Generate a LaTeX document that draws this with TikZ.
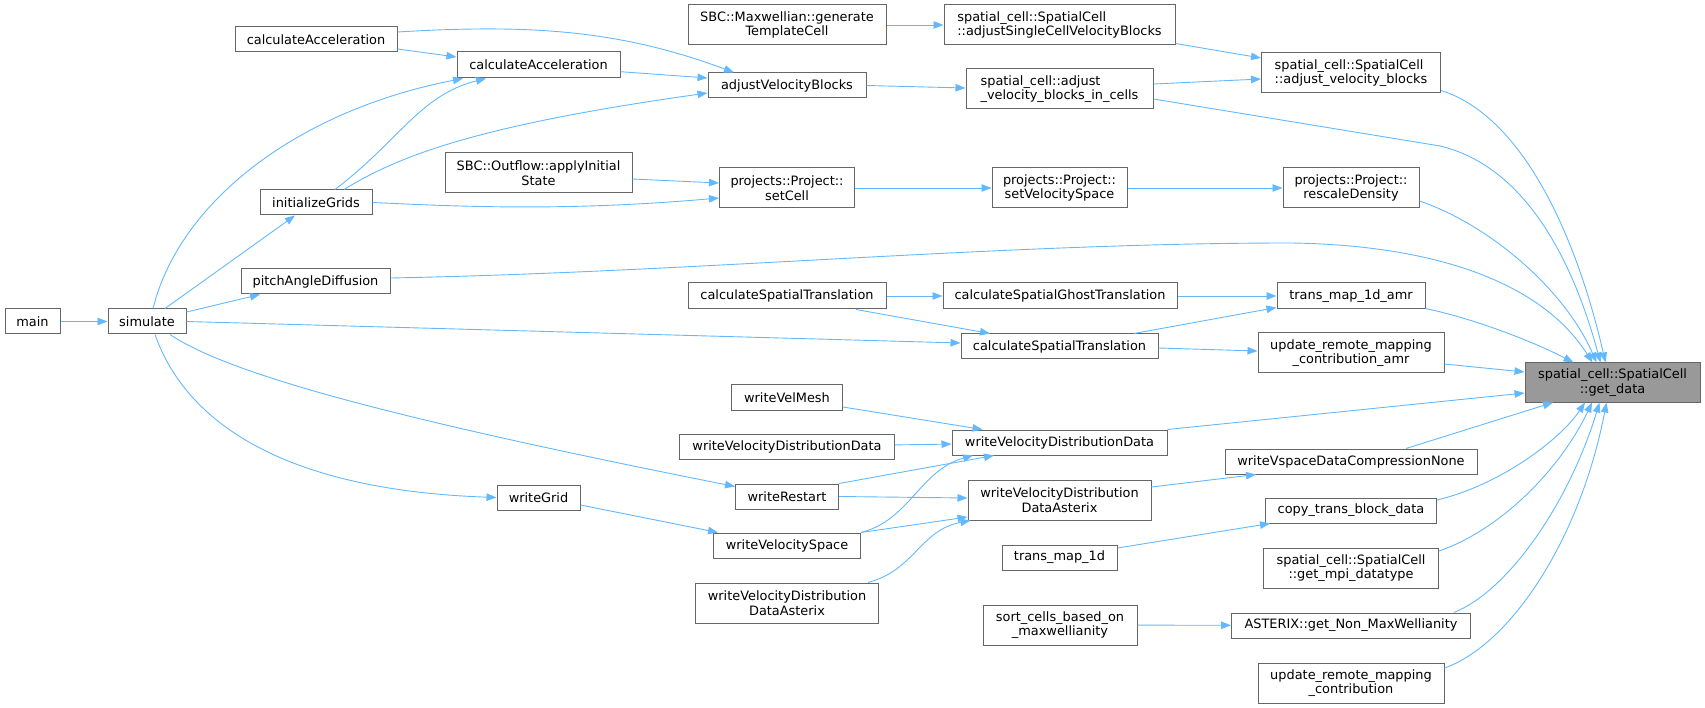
\documentclass[tikz,border=0pt]{standalone}
\usepackage{fontspec}
\setmainfont{DejaVu Sans}
\usetikzlibrary{arrows.meta}
\definecolor{edgeblue}{HTML}{63B8FF}
\definecolor{boxgray}{HTML}{666666}
\definecolor{hlgray}{HTML}{999999}
\tikzset{
  box/.style={draw=boxgray, line width=1pt, fill=white, inner sep=0pt, align=center,
    font=\fontsize{12.9}{14.4}\selectfont},
  sz/.style 2 args={minimum width=#1pt, minimum height=#2pt},
  e/.style={draw=edgeblue, line width=0.9pt, -{Triangle[length=10pt,width=7.5pt]}},
}
\begin{document}
\begin{tikzpicture}[x=1pt,y=-1pt]
\useasboundingbox (0,0) rectangle (1705,708);
% nodes
\node[box, sz={55}{25}] (main) at (32.5,321.5) {main};
\node[box, sz={78}{25}] (simulate) at (147,321.5) {simulate};
\node[box, sz={162}{25}] (accA) at (316,39.5) {calculateAcceleration};
\node[box, sz={163}{26}] (accB) at (538.5,65) {calculateAcceleration};
\node[box, sz={112}{25}] (initGrids) at (316,202.5) {initializeGrids};
\node[box, sz={187}{40}] (outflow) at (538.5,173) {SBC::Outflow::applyInitial\\State};
\node[box, sz={149}{25}] (pitch) at (315.5,281.5) {pitchAngleDiffusion};
\node[box, sz={83}{25}] (writeGrid) at (538.5,497.5) {writeGrid};
\node[box, sz={198}{40}] (maxw) at (787,25) {SBC::Maxwellian::generate\\TemplateCell};
\node[box, sz={231}{40}, align=left] (adjSingle) at (1059.5,25) {spatial\_cell::SpatialCell\\::adjustSingleCellVelocityBlocks};
\node[box, sz={158}{25}] (adjVB) at (787,85.5) {adjustVelocityBlocks};
\node[box, sz={187}{40}, align=left] (adjCells) at (1059.5,89) {spatial\_cell::adjust\\\_velocity\_blocks\_in\_cells};
\node[box, sz={135}{40}] (setCell) at (787,188) {projects::Project::\\setCell};
\node[box, sz={135}{40}] (setVS) at (1059.5,188) {projects::Project::\\setVelocitySpace};
\node[box, sz={198}{26}] (cstA) at (787,296) {calculateSpatialTranslation};
\node[box, sz={234}{26}] (ghost) at (1060,296) {calculateSpatialGhostTranslation};
\node[box, sz={197}{25}] (cstB) at (1059.5,346.5) {calculateSpatialTranslation};
\node[box, sz={179}{40}, align=left] (adjBlocks) at (1351,73) {spatial\_cell::SpatialCell\\::adjust\_velocity\_blocks};
\node[box, sz={136}{40}] (rescale) at (1351,188) {projects::Project::\\rescaleDensity};
\node[box, sz={148}{26}] (tmamr) at (1351,296) {trans\_map\_1d\_amr};
\node[box, sz={186}{40}] (urmca) at (1351,353) {update\_remote\_mapping\\\_contribution\_amr};
\node[box, sz={175}{39}, fill=hlgray] (getdata) at (1612.5,382.5) {spatial\_cell::SpatialCell\\::get\_data};
\node[box, sz={111}{25}] (velmesh) at (787,397.5) {writeVelMesh};
\node[box, sz={215}{25}] (vddA) at (787,446.5) {writeVelocityDistributionData};
\node[box, sz={215}{25}] (vddB) at (1059.5,442.5) {writeVelocityDistributionData};
\node[box, sz={103}{25}] (restart) at (787,496.5) {writeRestart};
\node[box, sz={183}{40}] (vddaB) at (1059.5,500) {writeVelocityDistribution\\DataAsterix};
\node[box, sz={147}{25}] (velspace) at (787,545.5) {writeVelocitySpace};
\node[box, sz={115}{25}] (tm1d) at (1059.5,557.5) {trans\_map\_1d};
\node[box, sz={183}{40}] (vddaA) at (787,603) {writeVelocityDistribution\\DataAsterix};
\node[box, sz={154}{40}] (sortcells) at (1060,625) {sort\_cells\_based\_on\\\_maxwellianity};
\node[box, sz={252}{25}] (vspace) at (1351,461.5) {writeVspaceDataCompressionNone};
\node[box, sz={171}{25}] (copytb) at (1351,510.5) {copy\_trans\_block\_data};
\node[box, sz={175}{40}] (mpitype) at (1351,568) {spatial\_cell::SpatialCell\\::get\_mpi\_datatype};
\node[box, sz={239}{25}] (asterix) at (1351,625.5) {ASTERIX::get\_Non\_MaxWellianity};
\node[box, sz={186}{40}] (urmc) at (1351,683) {update\_remote\_mapping\\\_contribution};
% edges
\draw[e] (main) -- (simulate);
\draw[e] ([xshift=6pt]simulate.north) .. controls (180,200) and (300,110) .. ([xshift=-75.5pt]accB.south);
\draw[e] ([xshift=19pt]initGrids.north) .. controls (400,140) and (420,95) .. ([xshift=-52.5pt]accB.south);
\draw[e] ([xshift=18pt]simulate.north) -- ([xshift=-21pt]initGrids.south);
\draw[e] ([yshift=9.5pt]simulate.east) -- ([xshift=-55.5pt]pitch.south);
\draw[e] (simulate.east) -- ([yshift=3.5pt]cstB.west);
\draw[e] ([xshift=23pt]simulate.south) .. controls (230,375) and (400,420) .. ([yshift=10pt]restart.west);
\draw[e] ([xshift=8pt]simulate.south) .. controls (185,420) and (280,490) .. (writeGrid.west);
\draw[e] ([yshift=-9.5pt]accA.east) -- ([yshift=8pt]accB.west);
\draw[e] ([yshift=7.5pt]accA.east) .. controls (530,24) and (620,30) .. ([xshift=-53pt]adjVB.north);
\draw[e] ([yshift=-6.7pt]accB.east) -- ([yshift=7.5pt]adjVB.west);
\draw[e] ([xshift=28pt]initGrids.north) .. controls (400,155) and (480,125) .. ([yshift=-7.5pt]adjVB.west);
\draw[e] (initGrids.east) .. controls (450,206) and (560,212) .. ([yshift=-10pt]setCell.west);
\draw[e] ([yshift=-6pt]outflow.east) -- ([yshift=5pt]setCell.west);
\draw[e] (setCell) -- (setVS);
\draw[e] (setVS) -- (rescale);
\draw[e] (adjVB.east) -- ([yshift=1pt]adjCells.west);
\draw[e] (maxw) -- (adjSingle);
\draw[e] ([yshift=2pt]adjSingle.south east) -- ([yshift=15pt]adjBlocks.west);
\draw[e] ([yshift=5pt]adjCells.east) -- ([yshift=-6pt]adjBlocks.west);
\draw[e] ([yshift=-10pt]adjCells.east) -- (1440,146) .. controls (1520,165) and (1570,250) .. ([xshift=-12pt]getdata.north);
\draw[e] ([yshift=3pt]adjBlocks.south east) .. controls (1520,115) and (1575,230) .. ([xshift=-7pt]getdata.north);
\draw[e] ([yshift=-13pt]rescale.east) .. controls (1490,225) and (1565,290) .. ([xshift=-16pt]getdata.north);
\draw[e] ([yshift=3.5pt]pitch.east) .. controls (700,272) and (1000,243) .. (1291,243) .. controls (1430,245) and (1540,280) .. ([xshift=-20pt]getdata.north);
\draw[e] ([yshift=1pt]tmamr.south east) .. controls (1480,320) and (1540,345) .. ([xshift=-39pt]getdata.north);
\draw[e] (cstA) -- (ghost);
\draw[e] ([xshift=69pt]cstA.south) -- ([xshift=-69.5pt]cstB.north);
\draw[e] (ghost) -- (tmamr);
\draw[e] ([xshift=74.5pt]cstB.north) -- ([yshift=2pt]tmamr.south west);
\draw[e] ([yshift=-1.5pt]cstB.east) -- ([yshift=2pt]urmca.west);
\draw[e] ([yshift=-11pt]urmca.east) -- ([yshift=10.5pt]getdata.west);
\draw[e] (vddB.north east) -- ([yshift=-10.5pt]getdata.west);
\draw[e] ([xshift=55pt]vspace.north) -- ([xshift=-59.5pt]getdata.south);
\draw[e] ([yshift=10.5pt]copytb.east) .. controls (1500,485) and (1560,440) .. ([xshift=-27.5pt]getdata.south);
\draw[e] ([yshift=17pt]mpitype.east) .. controls (1500,530) and (1560,470) .. ([xshift=-20.5pt]getdata.south);
\draw[e] ([xshift=103pt]asterix.north) .. controls (1510,590) and (1570,500) .. ([xshift=-13pt]getdata.south);
\draw[e] ([yshift=15pt]urmc.east) .. controls (1510,645) and (1580,540) .. ([xshift=-6pt]getdata.south);
\draw[e] ([yshift=-9.5pt]velmesh.east) -- ([xshift=-77pt]vddB.north);
\draw[e] (vddA) -- (vddB);
\draw[e] (restart.north east) -- ([xshift=-65.5pt]vddB.south);
\draw[e] (restart.east) -- ([yshift=2pt]vddaB.west);
\draw[e] (velspace.north east) .. controls (910,520) and (920,470) .. ([xshift=-86.5pt]vddB.south);
\draw[e] (velspace.north east) -- ([yshift=-17pt]vddaB.west);
\draw[e] ([xshift=-11pt]vddaA.north east) .. controls (915,570) and (920,530) .. ([xshift=3pt]vddaB.south west);
\draw[e] ([yshift=-7.5pt]writeGrid.east) -- ([xshift=5pt]velspace.north west);
\draw[e] ([yshift=9.5pt]tm1d.east) -- ([xshift=5pt]copytb.south west);
\draw[e] (sortcells) -- (asterix);
\draw[e] ([yshift=13pt]vddaB.east) -- ([xshift=-95pt]vspace.south);
\end{tikzpicture}
\end{document}
